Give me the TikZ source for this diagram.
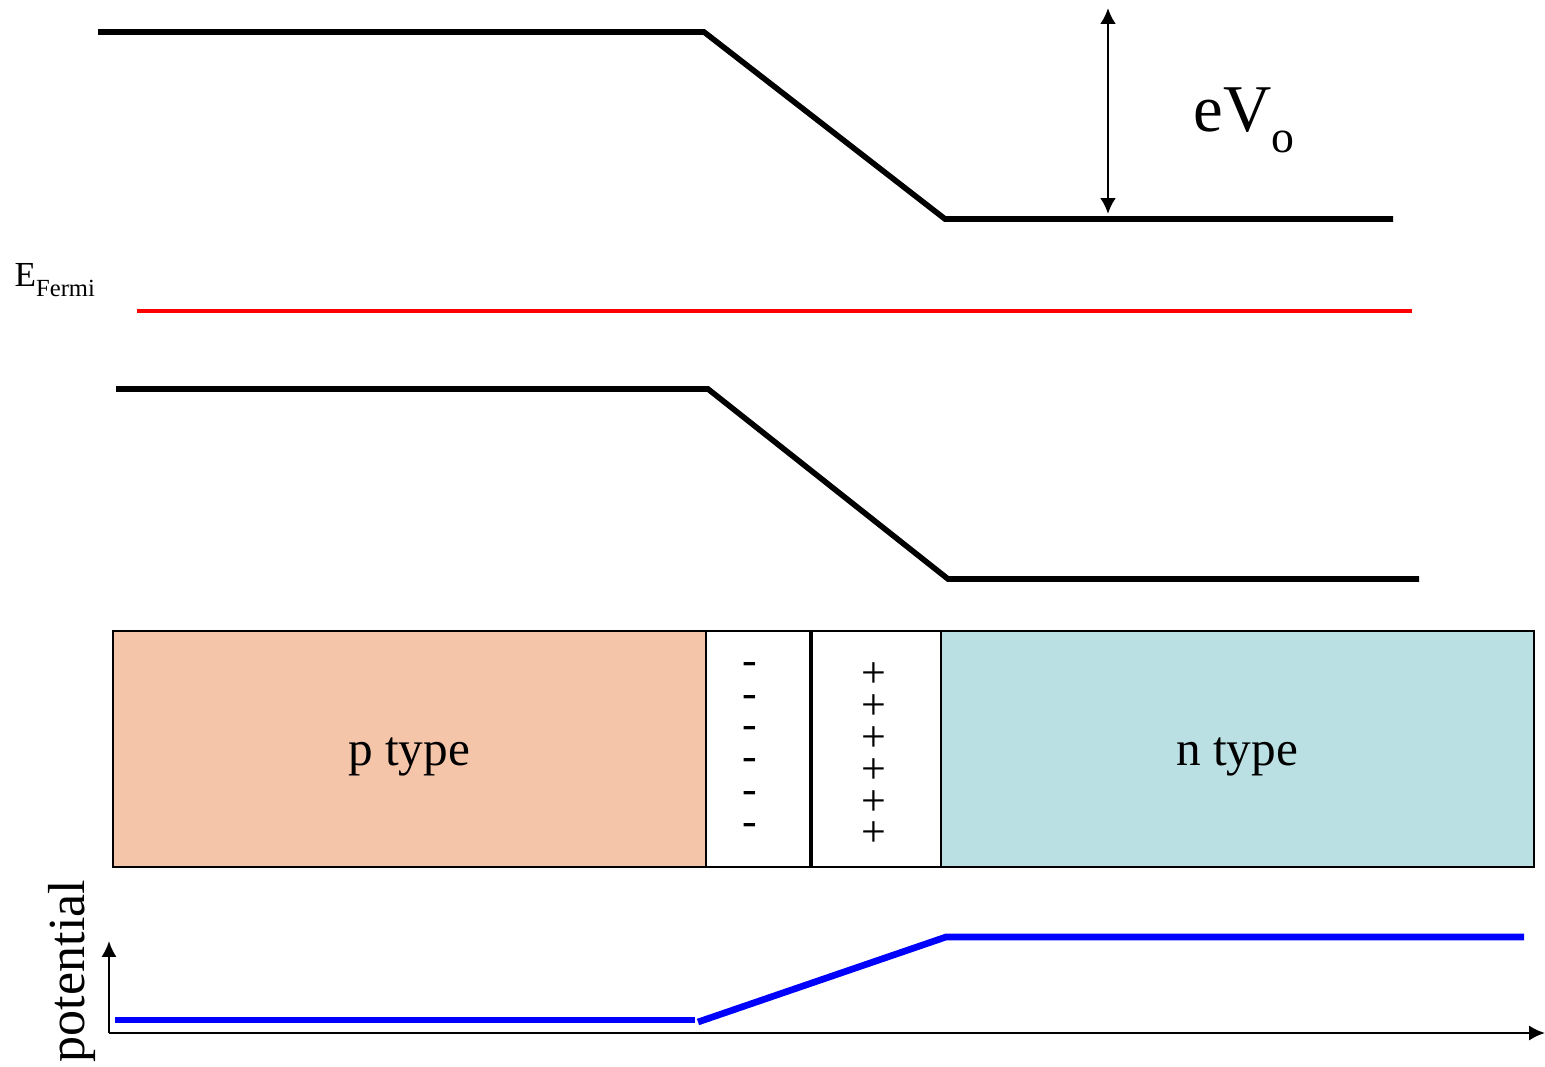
\documentclass[tikz,border=0pt]{standalone}
\usepackage{fontspec}
\setmainfont{Liberation Serif}
\usetikzlibrary{arrows.meta}
\definecolor{pfill}{RGB}{245,197,170}
\definecolor{nfill}{RGB}{186,224,227}
\definecolor{potblue}{RGB}{0,0,255}
\definecolor{fermired}{RGB}{255,0,0}
\begin{document}
\begin{tikzpicture}[x=0.01cm,y=-0.01cm,
  band/.style={line width=1.6pt, line join=miter, black},
  fermi/.style={line width=1.3pt, fermired},
  potline/.style={line width=1.9pt, potblue},
  dimarrow/.style={line width=0.8pt, {Latex[length=4.5pt,width=4.5pt]}-{Latex[length=4.5pt,width=4.5pt]}},
  axisline/.style={line width=0.7pt, -{Latex[length=4.5pt,width=4.3pt]}},
  region/.style={draw=black, line width=0.6pt},
  charge/.style={inner sep=0pt, font=\fontsize{12.5}{12.5}\selectfont},
  label14/.style={inner sep=0pt, font=\fontsize{14}{14}\selectfont}]
\useasboundingbox (0,0) rectangle (1545,1067);

% conduction band
\coordinate (c1) at (98,32);
\coordinate (c2) at (704,32);
\coordinate (c3) at (945,219);
\coordinate (c4) at (1393,219);
\draw[band] (c1) -- (c2) -- (c3) -- (c4);

% valence band
\coordinate (v1) at (116,389);
\coordinate (v2) at (708,389);
\coordinate (v3) at (948,579);
\coordinate (v4) at (1419,579);
\draw[band] (v1) -- (v2) -- (v3) -- (v4);

% Fermi level
\coordinate (f1) at (137,311);
\coordinate (f2) at (1412,311);
\draw[fermi] (f1) -- (f2);
\node[anchor=base west, inner sep=0pt] (ef) at (14,287)
  {\fontsize{10}{10}\selectfont E\raisebox{-2.8pt}{\fontsize{7}{7}\selectfont Fermi}};

% eV0 arrow
\coordinate (a1) at (1108,8);
\coordinate (a2) at (1108,214);
\draw[dimarrow] (a1) -- (a2);
\node[anchor=base west, inner sep=0pt] (ev) at (1193,132)
  {\fontsize{19}{19}\selectfont eV\raisebox{-5.7pt}{\fontsize{13}{13}\selectfont o}};

% regions
\draw[region, fill=pfill] (113,631) rectangle (706,867);
\draw[region, fill=white] (706,631) rectangle (811,867);
\draw[region, fill=white] (811,631) rectangle (941,867);
\draw[region, fill=nfill] (941,631) rectangle (1534,867);
\draw[line width=1.1pt] (811,631) -- (811,867);
\node[label14, anchor=base] (ptype) at (409,765) {p type};
\node[label14, anchor=base] (ntype) at (1237,765) {n type};

\foreach \i/\y in {1/669,2/701,3/733,4/765,5/797,6/829}
  \node[charge] (m\i) at (750,\y) {-};
\foreach \i/\y in {1/675,2/707,3/739,4/771,5/803,6/834}
  \node[charge] (pl\i) at (874,\y) {+};

% potential axes
\coordinate (o) at (109,1033);
\coordinate (ytop) at (109,941);
\coordinate (xend) at (1545,1033);
\draw[axisline] (o) -- (ytop);
\draw[axisline] (o) -- (xend);
\node[rotate=90, inner sep=0pt, font=\fontsize{14.8}{14.8}\selectfont] (pot) at (72,971) {potential};

% potential curve
\coordinate (p1) at (115,1020);
\coordinate (p2) at (695,1020);
\coordinate (p3) at (698,1022);
\coordinate (p4) at (946,937);
\coordinate (p5) at (1524,937);
\draw[potline] (p1) -- (p2);
\draw[potline, line join=miter] (p3) -- (p4) -- (p5);
\end{tikzpicture}
\end{document}
